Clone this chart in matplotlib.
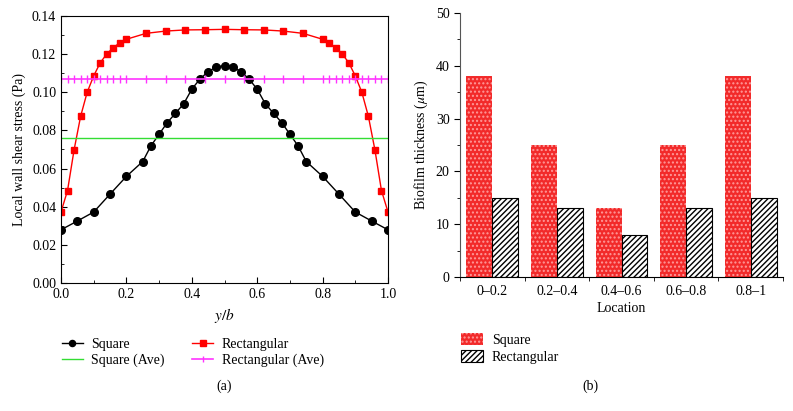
import numpy as np
import matplotlib.pyplot as plt
from matplotlib.ticker import MultipleLocator

plt.rcParams['font.family'] = ['Liberation Serif', 'DejaVu Serif']
plt.rcParams['mathtext.fontset'] = 'stix'
plt.rcParams['font.size'] = 10
plt.rcParams['hatch.linewidth'] = 1.0

# (a) local wall shear stress
x_sq = [0, 0.05, 0.1, 0.15, 0.2, 0.25, 0.275, 0.3, 0.325, 0.35, 0.375, 0.4, 0.425, 0.45,
        0.475, 0.5, 0.525, 0.55, 0.575, 0.6, 0.625, 0.65, 0.675, 0.7, 0.725, 0.75,
        0.8, 0.85, 0.9, 0.95, 1.0]
y_sq = [0.0279, 0.0325, 0.0372, 0.0466, 0.0559, 0.0637, 0.0719, 0.0780, 0.0841, 0.0890,
        0.0939, 0.1016, 0.1070, 0.1108, 0.1133, 0.1140, 0.1133, 0.1108, 0.1070, 0.1016,
        0.0939, 0.0890, 0.0841, 0.0780, 0.0719, 0.0637, 0.0559, 0.0466, 0.0372, 0.0325,
        0.0279]
x_re = [0, 0.02, 0.04, 0.06, 0.08, 0.1, 0.12, 0.14, 0.16, 0.18, 0.2, 0.26, 0.32, 0.38,
        0.44, 0.5, 0.56, 0.62, 0.68, 0.74, 0.8, 0.82, 0.84, 0.86, 0.88, 0.9, 0.92, 0.94,
        0.96, 0.98, 1.0]
y_re = [0.0372, 0.0485, 0.0698, 0.0874, 0.1000, 0.1086, 0.1155, 0.1201, 0.1234, 0.1260,
        0.1278, 0.1309, 0.1321, 0.1327, 0.1328, 0.1330, 0.1328, 0.1327, 0.1321, 0.1309,
        0.1278, 0.1260, 0.1234, 0.1201, 0.1155, 0.1086, 0.1000, 0.0874, 0.0698, 0.0485,
        0.0372]
sq_ave = 0.0758
re_ave = 0.1072

# (b) biofilm thickness
locations = ['0–0.2', '0.2–0.4', '0.4–0.6', '0.6–0.8', '0.8–1']
thick_sq = [38, 25, 13, 25, 38]
thick_re = [15, 13, 8, 13, 15]

W, H = 793, 411
fig = plt.figure(figsize=(W / 100, H / 100), dpi=100)

# ---- panel (a)
ax1 = fig.add_axes([61 / W, 1 - 283 / H, 327 / W, 267 / H])
ax1.plot(x_sq, y_sq, color='black', marker='o', markersize=5.5, linewidth=1.0, label='Square')
ax1.plot(x_re, y_re, color='red', marker='s', markersize=5, linewidth=1.0, label='Rectangular')
ax1.plot(x_re, [sq_ave] * len(x_re), color='#33dd33', linewidth=1.0, label='Square (Ave)')
ax1.plot(x_re, [re_ave] * len(x_re), color='#ff33ff', marker='|', markersize=6,
         linewidth=1.2, label='Rectangular (Ave)')
ax1.set_xlim(0, 1.0)
ax1.set_ylim(0, 0.14)
ax1.xaxis.set_major_locator(MultipleLocator(0.2))
ax1.xaxis.set_minor_locator(MultipleLocator(0.1))
ax1.yaxis.set_major_locator(MultipleLocator(0.02))
ax1.yaxis.set_minor_locator(MultipleLocator(0.01))
ax1.xaxis.set_major_formatter(lambda v, p: f'{v:.1f}')
ax1.yaxis.set_major_formatter(lambda v, p: f'{v:.2f}')
ax1.tick_params(which='both', direction='in', top=False, right=False)
ax1.tick_params(which='major', length=4)
ax1.tick_params(which='minor', length=2.5)
ax1.set_xlabel(r'$y/b$', fontsize=11, labelpad=4)
ax1.set_ylabel('Local wall shear stress (Pa)', fontsize=10)
h, l = ax1.get_legend_handles_labels()
order = [0, 2, 1, 3]
ax1.legend([h[i] for i in order], [l[i] for i in order], ncol=2, frameon=False,
           loc='upper left', bbox_to_anchor=(-0.035, -0.16), handlelength=1.5,
           handletextpad=0.6, columnspacing=2.0, labelspacing=0.2, fontsize=10,
           markerscale=0.8)
fig.text(224 / W, 1 - 386 / H, '(a)', ha='center', va='center', fontsize=10)

# ---- panel (b)
ax2 = fig.add_axes([460 / W, 1 - 277 / H, 323 / W, 264 / H])
pos = np.arange(len(locations))
ax2.bar(pos - 0.2, thick_sq, width=0.4, color='#f22a2a', edgecolor='#ff9a9a',
        hatch='....', linewidth=0, label='Square')
ax2.bar(pos + 0.2, thick_re, width=0.4, color='white', edgecolor='black',
        hatch='//////', linewidth=0.8, label='Rectangular')
ax2.set_xlim(-0.5, 4.5)
ax2.set_ylim(0, 50)
ax2.set_xticks(pos)
ax2.set_xticklabels(locations)
ax2.set_xticks(np.arange(-0.5, 4.6, 1.0), minor=True)
ax2.yaxis.set_major_locator(MultipleLocator(10))
ax2.yaxis.set_minor_locator(MultipleLocator(5))
ax2.tick_params(axis='x', which='major', length=0, pad=6)
ax2.tick_params(axis='x', which='minor', length=3)
ax2.tick_params(axis='y', which='major', length=4)
ax2.tick_params(axis='y', which='minor', length=2.5)
ax2.spines['top'].set_visible(False)
ax2.spines['right'].set_visible(False)
ax2.spines['left'].set_color('#555555')
ax2.set_xlabel('Location', fontsize=10, labelpad=3)
ax2.set_ylabel(r'Biofilm thickness ($\mu$m)', fontsize=10)
ax2.legend(frameon=False, loc='upper left', bbox_to_anchor=(-0.035, -0.165),
           handlelength=1.6, handleheight=1.0, handletextpad=0.6,
           labelspacing=0.2, fontsize=10)
fig.text(590 / W, 1 - 386 / H, '(b)', ha='center', va='center', fontsize=10)

fig.savefig('out.png', dpi=100)
